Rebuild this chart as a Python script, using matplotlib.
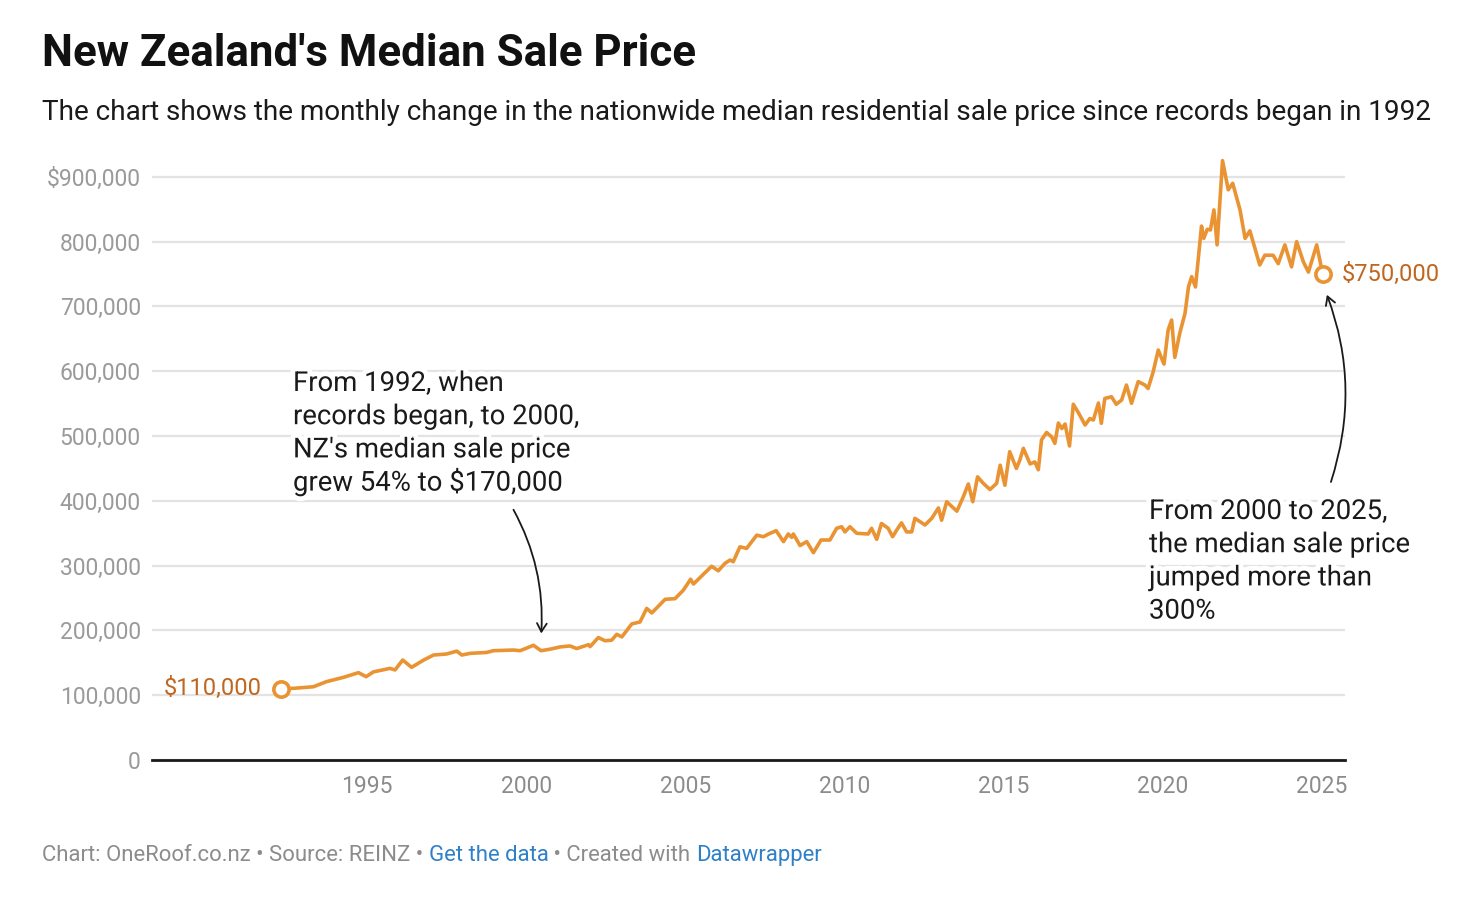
import matplotlib
matplotlib.use("Agg")
import matplotlib.pyplot as plt
import matplotlib.patheffects as pe

plt.rcParams['font.family'] = ['Roboto', 'DejaVu Sans']

# monthly median sale price (decimal year, NZD)
years = [1992.29, 1992.68, 1993.31, 1993.73, 1994.26, 1994.73, 1994.97, 1995.2, 1995.72, 1995.88,
         1996.12, 1996.4, 1996.77, 1997.09, 1997.5, 1997.82, 1997.98, 1998.24, 1998.76, 1998.97,
         1999.6, 1999.81, 2000.23, 2000.47, 2000.75, 2001.07, 2001.38, 2001.59, 2001.96, 2002.01,
         2002.27, 2002.48, 2002.69, 2002.85, 2003.01, 2003.32, 2003.58, 2003.79, 2003.95, 2004.37,
         2004.68, 2004.94, 2005.17, 2005.26, 2005.52, 2005.83, 2006.04, 2006.25, 2006.41, 2006.51,
         2006.72, 2006.93, 2007.25, 2007.46, 2007.62, 2007.86, 2008.09, 2008.24, 2008.35, 2008.4,
         2008.61, 2008.82, 2009.03, 2009.27, 2009.55, 2009.76, 2009.92, 2010.02, 2010.18, 2010.39,
         2010.75, 2010.86, 2011.02, 2011.17, 2011.38, 2011.52, 2011.65, 2011.8, 2011.96, 2012.12,
         2012.22, 2012.38, 2012.54, 2012.75, 2012.96, 2013.06, 2013.22, 2013.54, 2013.74, 2013.9,
         2014.04, 2014.19, 2014.37, 2014.58, 2014.79, 2014.9, 2015.05, 2015.2, 2015.41, 2015.52,
         2015.63, 2015.84, 2015.99, 2016.1, 2016.2, 2016.36, 2016.52, 2016.62, 2016.73, 2016.84,
         2016.94, 2017.08, 2017.2, 2017.36, 2017.57, 2017.72, 2017.83, 2017.99, 2018.08, 2018.19,
         2018.4, 2018.55, 2018.72, 2018.87, 2019.03, 2019.24, 2019.45, 2019.55, 2019.71, 2019.87,
         2020.05, 2020.18, 2020.29, 2020.39, 2020.55, 2020.71, 2020.82, 2020.92, 2021.04, 2021.23,
         2021.3, 2021.41, 2021.51, 2021.62, 2021.72, 2021.89, 2022.07, 2022.21, 2022.44, 2022.6,
         2022.75, 2023.06, 2023.22, 2023.48, 2023.64, 2023.85, 2024.06, 2024.22, 2024.43, 2024.59,
         2024.85, 2025.04]
prices_k = [110, 110.6, 113, 121, 127.6, 134.8, 128.6, 136, 141.4, 139,
            154.3, 143, 154, 162, 163.6, 168, 162, 164.6, 166, 168.7,
            169.7, 168.7, 177, 168.7, 171, 174.5, 176, 172, 178, 175,
            189, 184, 185, 194, 190, 210, 213, 234, 227, 248,
            249, 262, 279, 271.6, 284, 299, 292, 303.5, 308.6, 306,
            329, 326.6, 347, 344.6, 348.8, 353.9, 337, 348.8, 343.6, 348.8,
            331, 337, 320, 339.5, 339.5, 357.6, 360, 352, 360, 349.9,
            348.8, 357.6, 340.6, 365, 357.6, 344.6, 355, 366, 352, 352,
            373, 367.8, 362.7, 373, 389, 370, 398.6, 384, 406, 426,
            398.6, 437, 427, 417.4, 427, 455, 424, 475.8, 450, 463,
            481, 457, 460, 448, 494, 505.5, 498.6, 488.6, 520, 511.5,
            518.5, 484.6, 549, 536, 517, 527, 524.7, 551, 519.6, 558,
            560.6, 549, 555.6, 578.7, 550.5, 584, 578.7, 573.3, 599, 632.7,
            611, 663.6, 679, 621.4, 659.4, 689, 730, 746, 730, 824,
            805, 819, 818, 849, 795, 925, 880, 890, 849, 805,
            816.7, 764, 779, 779, 766, 795, 761, 800, 769, 753,
            795, 750]
prices = [p * 1000 for p in prices_k]

y_ticks = [0, 100000, 200000, 300000, 400000, 500000, 600000, 700000, 800000, 900000]
y_labels = ['0', '100,000', '200,000', '300,000', '400,000', '500,000',
            '600,000', '700,000', '800,000', '$900,000']
x_ticks = [1995, 2000, 2005, 2010, 2015, 2020, 2025]

note_left = ["From 1992, when", "records began, to 2000,", "NZ's median sale price", "grew 54% to $170,000"]
note_right = ["From 2000 to 2025,", "the median sale price", "jumped more than", "300%"]

LINE = '#ea9333'
LABEL = '#c0661f'
GREY = '#8c8c8c'
BLUE = '#2f80c8'

W, H = 1462, 902
fig = plt.figure(figsize=(W / 100, H / 100), dpi=100)
ax = fig.add_axes([152 / W, 142 / H, (1345 - 152) / W, (760 - 157.4) / H])

ax.plot(years, prices, color=LINE, lw=2.6, solid_joinstyle='round', zorder=3)
for i in (0, -1):
    ax.plot(years[i], prices[i], 'o', ms=11, mfc='white', mec=LINE, mew=2.6, zorder=4)

ax.set_xlim(1988.24, 2025.74)
ax.set_ylim(0, 930000)
ax.set_yticks(y_ticks)
ax.set_yticklabels(y_labels)
ax.set_xticks(x_ticks)
ax.set_xticklabels([str(x) for x in x_ticks])
ax.tick_params(axis='y', length=0, pad=8, labelsize=16.5, labelcolor='#9a9a9a')
ax.tick_params(axis='x', length=0, pad=11, labelsize=16.5, labelcolor=GREY)
ax.grid(axis='y', color='#e3e3e3', lw=1.6, zorder=0)
for s in ('top', 'right', 'left'):
    ax.spines[s].set_visible(False)
ax.spines['bottom'].set_color('#1a1a1a')
ax.spines['bottom'].set_linewidth(2)
ax.spines['bottom'].set_zorder(5)
ax.set_axisbelow(True)

# end labels
ax.annotate('$110,000', (years[0], prices[0]), xytext=(-14, 0), textcoords='offset points',
            ha='right', va='center', fontsize=17, color=LABEL)
ax.annotate('$750,000', (years[-1], prices[-1]), xytext=(14, 0), textcoords='offset points',
            ha='left', va='center', fontsize=17, color=LABEL)

# annotations, one line at a time for even spacing
halo = [pe.withStroke(linewidth=7, foreground='white')]
for k, line in enumerate(note_left):
    fig.text(293 / W, 1 - (391 + 33.2 * k) / H, line, fontsize=19.8, color='#1a1a1a',
             va='baseline', path_effects=halo, zorder=6)
for k, line in enumerate(note_right):
    fig.text(1149 / W, 1 - (519 + 33.2 * k) / H, line, fontsize=19.8, color='#1a1a1a',
             va='baseline', path_effects=halo, zorder=6)

arrow = dict(arrowstyle='->,head_length=0.6,head_width=0.35', color='#1a1a1a', lw=1.3)
ax.annotate('', xy=(2000.47, 191000), xytext=(1999.56, 390000),
            arrowprops=dict(connectionstyle='arc3,rad=-0.15', **arrow), zorder=6)
ax.annotate('', xy=(2025.14, 722000), xytext=(2025.27, 425000),
            arrowprops=dict(connectionstyle='arc3,rad=0.18', **arrow), zorder=6)

# title and subtitle
fig.text(42 / W, 1 - 66 / H, "New Zealand's Median Sale Price", fontsize=31.6, weight='bold',
         color='#111111', va='baseline')
fig.text(42 / W, 1 - 120 / H,
         "The chart shows the monthly change in the nationwide median residential sale price since records began in 1992",
         fontsize=20.1, color='#1a1a1a', va='baseline')

# footer with coloured pieces
pieces = [("Chart: OneRoof.co.nz \u2022 Source: REINZ \u2022 ", GREY), ("Get the data", BLUE),
          (" \u2022 Created with ", GREY), ("Datawrapper", BLUE)]
renderer = fig.canvas.get_renderer()
x = 42
for txt, col in pieces:
    t = fig.text(x / W, 1 - 861 / H, txt, fontsize=15.9, color=col, va='baseline')
    x += t.get_window_extent(renderer).width

fig.savefig('out.png', dpi=100, facecolor='white')
